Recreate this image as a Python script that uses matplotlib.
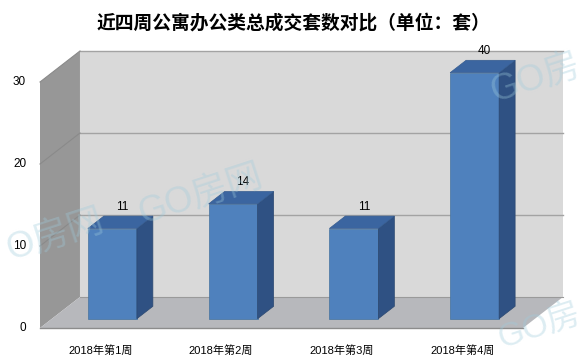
import matplotlib
matplotlib.use("Agg")
import matplotlib.pyplot as plt
from matplotlib.patches import Polygon

plt.rcParams['font.family'] = ['Liberation Sans', 'Noto Sans CJK SC', 'DejaVu Sans']

# ---- data ----
categories = ['2018年第1周', '2018年第2周', '2018年第3周', '2018年第4周']
values = [11, 14, 11, 40]
yticks = [0, 10, 20, 30]
title = '近四周公寓办公类总成交套数对比（单位：套）'

# ---- style ----
YMAX = 30
DX, DY = 0.331, 3.78          # oblique depth offset in data units
D0, D1 = 0.3, 0.7             # bar depth range
HW = 0.203                    # bar half width
c_back = '#d9d9d9'
c_left = '#979797'
c_floor = '#b7b8bc'
c_grid = '#a3a3a3'
c_front = '#4f81bd'
c_top = '#3b65a0'
c_side = '#2f5183'

fig = plt.figure(figsize=(5.87, 3.63), dpi=100)
ax = fig.add_axes([40/587, 35/363, 483/587, 246/363])
ax.set_xlim(-0.5, len(categories) - 0.5)
ax.set_ylim(0, YMAX)
ax.axis('off')

x0, x1 = -0.5, len(categories) - 0.5

def P(x, y, d):
    return (x + d*DX, y + d*DY)

def poly(pts, fc, ec='none', lw=0.0, z=1):
    ax.add_patch(Polygon(pts, closed=True, facecolor=fc, edgecolor=ec,
                         linewidth=lw, zorder=z, clip_on=False))

# walls & floor
poly([P(x0, 0, 1), P(x1, 0, 1), P(x1, YMAX, 1), P(x0, YMAX, 1)], c_back, z=1)
poly([P(x0, 0, 0), P(x0, 0, 1), P(x0, YMAX, 1), P(x0, YMAX, 0)], c_left, z=1)
poly([P(x0, 0, 0), P(x1, 0, 0), P(x1, 0, 1), P(x0, 0, 1)], c_floor, z=1)

# gridlines
for v in yticks[1:]:
    a, b = P(x0, v, 1), P(x1, v, 1)
    ax.plot([a[0], b[0]], [a[1], b[1]], color=c_grid, lw=1.0, zorder=2, clip_on=False)
    a, b = P(x0, v, 0), P(x0, v, 1)
    ax.plot([a[0], b[0]], [a[1], b[1]], color='#8a8a8a', lw=0.8, zorder=2, clip_on=False)
# floor edges
a, b = P(x0, 0, 0), P(x1, 0, 0)
ax.plot([a[0], b[0]], [a[1], b[1]], color='#8c8c8c', lw=1.0, zorder=2, clip_on=False)
a, b = P(x0, 0, 1), P(x1, 0, 1)
ax.plot([a[0], b[0]], [a[1], b[1]], color='#9a9a9a', lw=0.8, zorder=2, clip_on=False)

# y tick labels
for v in yticks:
    ax.annotate(str(v), xy=P(x0, v, 0), xytext=(-10, 0), textcoords='offset points',
                ha='right', va='center', fontsize=8.5, color='#000000')

# category labels
for i, c in enumerate(categories):
    ax.annotate(c, xy=P(i, 0, 0), xytext=(0, -16), textcoords='offset points',
                ha='center', va='center', fontsize=8, color='#000000')

# bars
for i, v in enumerate(values):
    h = min(v, YMAX)
    poly([P(i - HW, 0, D0), P(i + HW, 0, D0), P(i + HW, h, D0), P(i - HW, h, D0)],
         c_front, ec='#46739f', lw=0.5, z=5)
    poly([P(i + HW, 0, D0), P(i + HW, 0, D1), P(i + HW, h, D1), P(i + HW, h, D0)],
         c_side, ec='#2b4870', lw=0.5, z=5)
    poly([P(i - HW, h, D0), P(i + HW, h, D0), P(i + HW, h, D1), P(i - HW, h, D1)],
         c_top, ec='#355b8f', lw=0.5, z=5)
    lx = P(i, h, 0.55)[0]
    ly = P(i, h, D1)[1]
    ax.annotate(str(v), xy=(lx, ly), xytext=(0, 2.5), textcoords='offset points',
                ha='center', va='bottom', fontsize=8.5, color='#000000',
                annotation_clip=False, zorder=6)

# title
fig.text(0.5, 1 - 23/363, title, ha='center', va='center', fontsize=13.5,
         fontweight='bold', family=['Noto Sans CJK SC', 'DejaVu Sans'])

# watermarks (visible parts, kept inside the canvas)
wm = dict(fontsize=26, color='#9fcbdc', alpha=0.35, rotation=18,
          va='center', family=['Liberation Sans', 'Noto Sans CJK SC'], zorder=10)
fig.text(200/587, 1 - 195/363, 'GO房网', ha='center', **wm)
fig.text(2/587, 1 - 235/363, 'O房网', ha='left', **wm)
fig.text(585/587, 1 - 78/363, 'GO房', ha='right', **wm)
fig.text(585/587, 1 - 327/363, 'GO房', ha='right',
         **{**wm, 'fontsize': 24})

fig.savefig('out.png', dpi=100)
